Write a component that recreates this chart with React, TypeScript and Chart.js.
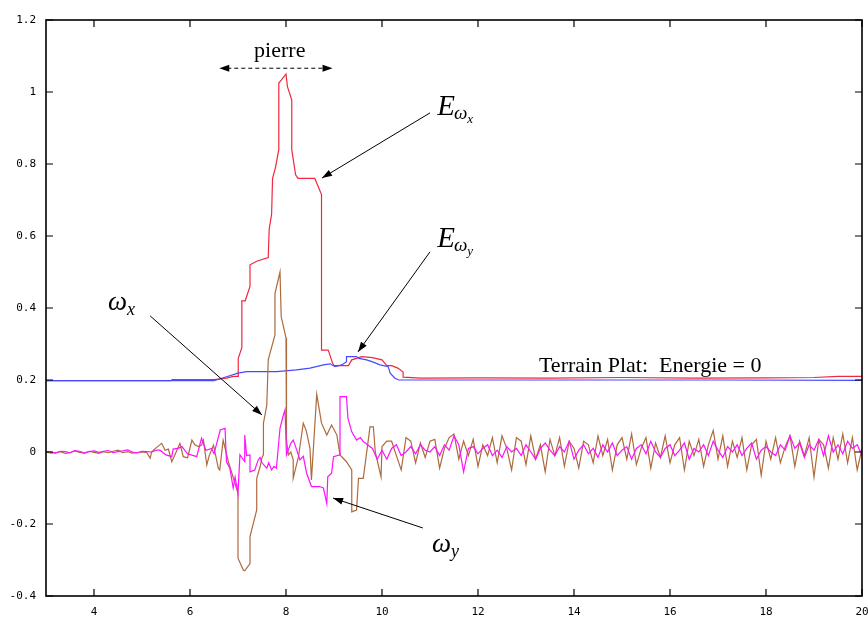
import React, { useEffect, useRef } from "react";
import { Chart, registerables } from "chart.js";
Chart.register(...registerables);

// ---------- axis ticks ----------
const X_TICKS = [4, 6, 8, 10, 12, 14, 16, 18, 20];
const Y_TICKS = [-0.4, -0.2, 0, 0.2, 0.4, 0.6, 0.8, 1, 1.2];

// ---------- E_wx (red) ----------
const ewxX = [3.0, 5.6, 5.63, 6.5, 6.76, 6.9, 7.0, 7.005, 7.08, 7.08, 7.15, 7.25, 7.25, 7.39, 7.63, 7.65, 7.7, 7.72, 7.78, 7.85, 7.85, 7.9, 8.0, 8.03, 8.12, 8.12, 8.2, 8.25, 8.6, 8.74, 8.74, 8.88, 8.97, 9.0, 9.3, 9.37, 9.58, 9.8, 10.0, 10.1, 10.2, 10.33, 10.44, 10.44, 10.8, 12.0, 13.5, 15.0, 16.5, 18.0, 19.0, 19.5, 20.0];
const ewxY = [0.198, 0.198, 0.201, 0.201, 0.205, 0.21, 0.21, 0.26, 0.29, 0.42, 0.42, 0.46, 0.52, 0.53, 0.54, 0.62, 0.66, 0.76, 0.79, 0.84, 1.025, 1.033, 1.05, 1.015, 0.978, 0.84, 0.77, 0.76, 0.76, 0.715, 0.283, 0.283, 0.247, 0.24, 0.24, 0.256, 0.265, 0.262, 0.256, 0.24, 0.24, 0.233, 0.222, 0.208, 0.205, 0.206, 0.205, 0.207, 0.205, 0.206, 0.207, 0.21, 0.21];

// ---------- E_wy (blue) ----------
const ewyX = [3.0, 6.5, 6.76, 7.0, 7.18, 7.8, 8.22, 8.5, 8.78, 8.92, 9.02, 9.16, 9.26, 9.26, 9.47, 9.52, 9.68, 9.79, 9.96, 10.13, 10.17, 10.27, 10.35, 14.0, 17.0, 20.0];
const ewyY = [0.198, 0.198, 0.209, 0.219, 0.223, 0.223, 0.228, 0.233, 0.242, 0.245, 0.237, 0.242, 0.251, 0.265, 0.265, 0.26, 0.256, 0.251, 0.242, 0.237, 0.219, 0.205, 0.2, 0.2, 0.2, 0.199];

// ---------- omega_x (brown) ----------
const EARLY_START = 3.0;
const GRID_STEP = 0.1;
const wxEarly = [0, -0.003, -0.002, 0.001, -0.004, -0.002, 0.003, -0.001, -0.003, 0.002, -0.001, -0.004, 0.001, -0.002, 0.002, 0.005, -0.002, 0.001, -0.003, -0.002, 0.0, -0.002];
const wxEventX = [5.17, 5.2, 5.28, 5.41, 5.48, 5.55, 5.62, 5.68, 5.79, 5.86, 5.95, 6.04, 6.1, 6.18, 6.24, 6.28, 6.35, 6.4, 6.49, 6.59, 6.62, 6.69, 6.8, 7.0, 7.0, 7.11, 7.14, 7.25, 7.25, 7.39, 7.39, 7.46, 7.5, 7.53, 7.53, 7.6, 7.63, 7.77, 7.77, 7.875, 7.9, 8.0, 8.01, 8.05, 8.1, 8.15, 8.15, 8.26, 8.36, 8.42, 8.5, 8.53, 8.64, 8.74, 8.85, 8.95, 9.06, 9.125, 9.26, 9.37, 9.37, 9.47, 9.51, 9.61, 9.75, 9.82, 9.86, 9.98];
const wxEventY = [-0.017, 0.0, 0.01, 0.024, 0.005, 0.008, -0.027, -0.01, 0.024, -0.013, -0.016, 0.033, 0.02, 0.015, 0.019, 0.033, -0.036, -0.01, 0.019, -0.045, -0.05, 0.033, -0.027, -0.115, -0.295, -0.328, -0.33, -0.31, -0.235, -0.161, -0.073, -0.041, -0.015, -0.008, 0.08, 0.13, 0.256, 0.325, 0.44, 0.5, 0.376, 0.317, 0.033, -0.008, 0.0, -0.022, -0.073, -0.013, 0.08, 0.06, 0.01, -0.078, 0.16, 0.08, 0.047, 0.075, 0.047, -0.008, -0.027, -0.05, -0.166, -0.161, -0.073, -0.073, 0.07, 0.07, 0.0, -0.069];
const QUIET_START = 10.0;
const wxQuiet = [0.015, 0.03, 0.03, -0.01, -0.05, 0.04, 0.03, -0.03, 0.025, -0.015, 0.03, 0.035, -0.045, 0.01, 0.04, 0.05, -0.02, 0.03, -0.01, 0.035, -0.04, 0.02, -0.01, 0.04, -0.03, 0.045, 0.01, -0.05, 0.04, 0.03, -0.035, 0.045, -0.02, 0.02, -0.055, 0.035, -0.01, 0.04, -0.04, 0.03, 0.01, -0.045, 0.03, 0.02, -0.03, 0.045, -0.01, 0.035, -0.05, 0.02, 0.04, -0.02, 0.05, -0.035, 0.01, 0.04, -0.045, 0.025, -0.015, 0.045, -0.03, 0.02, 0.04, -0.05, 0.03, -0.01, 0.035, -0.04, 0.02, 0.06, -0.02, 0.045, -0.04, 0.03, -0.015, 0.04, -0.05, 0.02, 0.035, -0.065, 0.03, -0.02, 0.04, -0.03, 0.015, 0.045, -0.04, 0.03, -0.01, 0.04, -0.07, 0.035, 0.02, -0.045, 0.04, -0.02, 0.05, -0.03, 0.04, -0.05, 0.01];

// ---------- omega_y (magenta) ----------
const wyEarly = [0.002, 0.0, -0.003, 0.002, 0.001, -0.002, 0.004, 0.002, -0.003, 0.001, 0.003, -0.001, 0.002, 0.004, -0.002, 0.001, 0.003, 0.006, 0.0, -0.002, 0.002, 0.001];
const wyEventX = [5.2, 5.3, 5.375, 5.5, 5.62, 5.65, 5.75, 5.83, 5.95, 6.14, 6.24, 6.33, 6.45, 6.5, 6.63, 6.73, 6.76, 6.83, 6.9, 6.94, 7.0, 7.04, 7.14, 7.14, 7.18, 7.25, 7.25, 7.35, 7.42, 7.46, 7.5, 7.6, 7.64, 7.7, 7.75, 7.8, 7.875, 7.94, 7.98, 8.01, 8.1, 8.15, 8.2, 8.29, 8.36, 8.43, 8.53, 8.7, 8.78, 8.85, 8.87, 8.95, 8.99, 9.125, 9.125, 9.26, 9.29, 9.37, 9.47, 9.55, 9.61, 9.7, 9.8, 9.9, 9.96];
const wyEventY = [0.0, 0.005, 0.005, -0.008, -0.013, 0.008, 0.01, 0.015, -0.005, -0.013, 0.038, 0.005, 0.01, -0.005, 0.061, 0.066, -0.027, -0.045, -0.1, -0.07, -0.115, -0.008, -0.027, 0.047, -0.01, -0.008, -0.055, -0.05, -0.022, -0.015, -0.03, -0.045, -0.03, -0.05, -0.04, -0.045, 0.066, 0.1, 0.117, -0.008, 0.024, 0.033, 0.015, -0.022, -0.012, -0.059, -0.096, -0.096, -0.1, -0.143, -0.069, -0.059, -0.013, -0.008, 0.154, 0.154, 0.094, 0.056, 0.033, 0.04, 0.029, 0.02, 0.01, -0.02, -0.005];
const wyQuiet = [0.005, -0.02, 0.01, 0.02, -0.01, 0.0, 0.015, -0.005, 0.02, 0.005, 0.0, 0.015, -0.01, 0.02, 0.005, 0.045, 0.02, -0.055, 0.01, 0.015, -0.005, 0.01, 0.02, -0.01, 0.005, -0.015, 0.015, 0.0, 0.01, -0.01, 0.02, 0.0, -0.02, 0.01, 0.025, 0.005, -0.01, 0.015, 0.0, 0.03, -0.02, 0.005, 0.02, -0.005, 0.01, -0.015, 0.02, 0.0, 0.025, -0.01, 0.005, 0.015, -0.02, 0.01, 0.02, -0.005, 0.03, 0.0, -0.015, 0.01, 0.02, -0.01, 0.005, 0.025, -0.02, 0.01, 0.0, 0.02, -0.01, 0.03, 0.005, -0.015, 0.015, 0.0, 0.02, -0.01, 0.01, 0.025, -0.02, 0.005, 0.015, 0.0, -0.01, 0.02, 0.005, 0.045, 0.01, 0.025, -0.015, 0.02, 0.005, 0.035, -0.01, 0.045, 0.0, 0.02, -0.005, 0.03, 0.01, 0.02, -0.01];

// ---------- helpers ----------
const pairs = (xs: number[], ys: number[]) => ys.map((y, i) => ({ x: xs[i], y }));
const grid = (start: number, ys: number[]) =>
  ys.map((y, i) => ({ x: Math.round((start + i * GRID_STEP) * 100) / 100, y }));

const wxData = [...grid(EARLY_START, wxEarly), ...pairs(wxEventX, wxEventY), ...grid(QUIET_START, wxQuiet)];
const wyData = [...grid(EARLY_START, wyEarly), ...pairs(wyEventX, wyEventY), ...grid(QUIET_START, wyQuiet)];

const SERIF = '"Liberation Serif", "Times New Roman", serif';

function arrowHead(ctx: CanvasRenderingContext2D, x1: number, y1: number, x2: number, y2: number, len = 10, half = 3.5) {
  const a = Math.atan2(y2 - y1, x2 - x1);
  const c = Math.cos(a), s = Math.sin(a);
  ctx.beginPath();
  ctx.moveTo(x2, y2);
  ctx.lineTo(x2 - len * c + half * s, y2 - len * s - half * c);
  ctx.lineTo(x2 - len * c - half * s, y2 - len * s + half * c);
  ctx.closePath();
  ctx.fill();
}

function arrow(ctx: CanvasRenderingContext2D, x1: number, y1: number, x2: number, y2: number) {
  ctx.beginPath();
  ctx.moveTo(x1, y1);
  ctx.lineTo(x2, y2);
  ctx.stroke();
  arrowHead(ctx, x1, y1, x2, y2);
}

const framePlugin = {
  id: "frameAndNotes",
  afterDatasetsDraw(chart: any) {
    const { ctx, chartArea: a, scales } = chart;
    const sx = scales.x, sy = scales.y;
    const px = (v: number) => sx.getPixelForValue(v);
    const py = (v: number) => sy.getPixelForValue(v);
    ctx.save();
    // frame
    ctx.strokeStyle = "#000";
    ctx.lineWidth = 1.6;
    ctx.strokeRect(a.left, a.top, a.right - a.left, a.bottom - a.top);
    // inward ticks, mirrored
    ctx.lineWidth = 1.2;
    const T = 7;
    ctx.beginPath();
    X_TICKS.forEach((v) => {
      const X = px(v);
      ctx.moveTo(X, a.bottom); ctx.lineTo(X, a.bottom - T);
      ctx.moveTo(X, a.top); ctx.lineTo(X, a.top + T);
    });
    Y_TICKS.forEach((v) => {
      const Y = py(v);
      ctx.moveTo(a.left, Y); ctx.lineTo(a.left + T, Y);
      ctx.moveTo(a.right, Y); ctx.lineTo(a.right - T, Y);
    });
    ctx.stroke();

    ctx.fillStyle = "#000";
    ctx.strokeStyle = "#000";
    ctx.lineWidth = 1;

    // pierre
    ctx.font = `22px ${SERIF}`;
    ctx.textAlign = "center";
    ctx.textBaseline = "alphabetic";
    ctx.fillText("pierre", px(7.87), py(1.097));
    const pl = px(6.61), pr = px(8.97), pyy = py(1.066);
    ctx.setLineDash([4, 3]);
    ctx.beginPath();
    ctx.moveTo(pl + 8, pyy);
    ctx.lineTo(pr - 8, pyy);
    ctx.stroke();
    ctx.setLineDash([]);
    arrowHead(ctx, pr, pyy, pl, pyy, 10, 3.5);
    arrowHead(ctx, pl, pyy, pr, pyy, 10, 3.5);

    // Terrain plat
    ctx.textAlign = "left";
    ctx.font = `22px ${SERIF}`;
    ctx.fillText("Terrain Plat:  Energie = 0", px(13.27), py(0.222));

    // E_wx
    const drawE = (xv: number, yv: number, sub: string) => {
      const X = px(xv), Y = py(yv);
      ctx.font = `italic 29px ${SERIF}`;
      ctx.fillText("E", X, Y);
      const w = ctx.measureText("E").width;
      ctx.font = `italic 19px ${SERIF}`;
      ctx.fillText("ω", X + w - 1, Y + 4);
      const w2 = ctx.measureText("ω").width;
      ctx.font = `italic 13px ${SERIF}`;
      ctx.fillText(sub, X + w - 1 + w2, Y + 8);
    };
    drawE(11.15, 0.936, "x");
    arrow(ctx, px(11.0), py(0.942), px(8.75), py(0.761));
    drawE(11.15, 0.57, "y");
    arrow(ctx, px(11.0), py(0.556), px(9.5), py(0.278));

    // omega labels
    const drawW = (xv: number, yv: number, sub: string) => {
      const X = px(xv), Y = py(yv);
      ctx.font = `italic 27px ${SERIF}`;
      ctx.fillText("ω", X, Y);
      const w = ctx.measureText("ω").width;
      ctx.font = `italic 18px ${SERIF}`;
      ctx.fillText(sub, X + w, Y + 5);
    };
    drawW(4.29, 0.394, "x");
    arrow(ctx, px(5.17), py(0.378), px(7.5), py(0.103));
    drawW(11.04, -0.278, "y");
    arrow(ctx, px(10.85), py(-0.211), px(8.98), py(-0.128));

    ctx.restore();
  },
};

export default function App() {
  const ref = useRef<HTMLCanvasElement | null>(null);
  useEffect(() => {
    if (!ref.current) return;
    const lineDs = (label: string, data: any[], color: string) => ({
      label,
      data,
      borderColor: color,
      backgroundColor: color,
      borderWidth: 1.2,
      pointRadius: 0,
      tension: 0,
      fill: false,
    });
    const chart = new Chart(ref.current, {
      type: "line",
      data: {
        datasets: [
          lineDs("omega_y", wyData, "#ff10ff"),
          lineDs("omega_x", wxData, "#ad6a3c"),
          lineDs("E_wy", pairs(ewyX, ewyY), "#4848ff"),
          lineDs("E_wx", pairs(ewxX, ewxY), "#f0283e"),
        ],
      },
      options: {
        animation: false,
        responsive: true,
        maintainAspectRatio: false,
        parsing: true,
        layout: { padding: { top: 20, right: 6, left: 0, bottom: 0 } },
        plugins: { legend: { display: false }, tooltip: { enabled: false } },
        scales: {
          x: {
            type: "linear",
            min: 3,
            max: 20,
            grid: { display: false, drawTicks: false },
            border: { display: false },
            afterBuildTicks: (s: any) => {
              s.ticks = X_TICKS.map((v) => ({ value: v }));
            },
            afterFit: (s: any) => {
              s.height = 23;
              s.paddingLeft = 0;
              s.paddingRight = 0;
            },
            ticks: {
              padding: 10,
              maxRotation: 0,
              autoSkip: false,
              color: "#000",
              font: { family: '"DejaVu Sans Mono", monospace', size: 11 },
              callback: (v: any) => String(v),
            },
          },
          y: {
            type: "linear",
            min: -0.4,
            max: 1.2,
            grid: { display: false, drawTicks: false },
            border: { display: false },
            afterBuildTicks: (s: any) => {
              s.ticks = Y_TICKS.map((v) => ({ value: v }));
            },
            afterFit: (s: any) => {
              s.width = 46;
              s.paddingTop = 0;
              s.paddingBottom = 0;
            },
            ticks: {
              padding: 10,
              autoSkip: false,
              color: "#000",
              font: { family: '"DejaVu Sans Mono", monospace', size: 11 },
              callback: (v: any) => String(Number(Number(v).toFixed(1))),
            },
          },
        },
      },
      plugins: [framePlugin],
    });
    return () => chart.destroy();
  }, []);
  return (
    <div style={{ position: "fixed", left: 0, top: 0, width: 868, height: 619, background: "#fff" }}>
      <canvas ref={ref} />
    </div>
  );
}
